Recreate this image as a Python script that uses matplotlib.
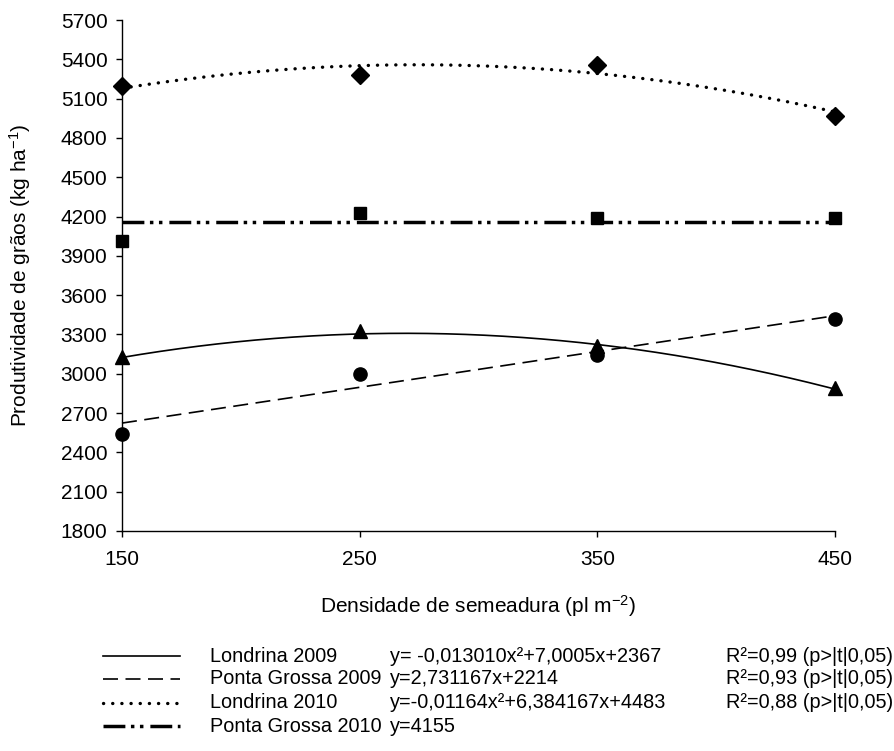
import numpy as np
import matplotlib
matplotlib.use("Agg")
import matplotlib.pyplot as plt
from matplotlib.lines import Line2D

plt.rcParams['font.family'] = ['Liberation Sans', 'DejaVu Sans']
plt.rcParams['mathtext.default'] = 'regular'

# ---- data ----
x_dens = [150, 250, 350, 450]
lon2009 = [3130, 3330, 3215, 2890]
pg2009 = [2540, 3000, 3140, 3415]
lon2010 = [5200, 5280, 5360, 4970]
pg2010 = [4010, 4230, 4190, 4190]

coef_lon2009 = [-0.013010, 7.0005, 2367]
coef_pg2009 = [2.731167, 2214]
coef_lon2010 = [-0.01164, 6.384167, 4483]
coef_pg2010 = [4155]

x_ticks = [150, 250, 350, 450]
y_ticks = list(range(1800, 5701, 300))

legend_names = ["Londrina 2009", "Ponta Grossa 2009", "Londrina 2010", "Ponta Grossa 2010"]
legend_eqs = ["y= -0,013010x\u00b2+7,0005x+2367", "y=2,731167x+2214",
              "y=-0,01164x\u00b2+6,384167x+4483", "y=4155"]
legend_r2 = ["R\u00b2=0,99 (p>|t|0,05)", "R\u00b2=0,93 (p>|t|0,05)", "R\u00b2=0,88 (p>|t|0,05)", ""]

W, H = 895, 751
fig = plt.figure(figsize=(W / 100, H / 100), dpi=100)
ax_l, ax_r, ax_b, ax_t = 122, 835, 531, 20
ax = fig.add_axes([ax_l / W, 1 - ax_b / H, (ax_r - ax_l) / W, (ax_b - ax_t) / H])

xs = np.linspace(150, 450, 300)

styles = [
    dict(color='black', lw=1.2, linestyle='-'),
    dict(color='black', lw=1.2, linestyle=(0, (9, 4.5))),
    dict(color='black', lw=2.4, linestyle=(0, (0.05, 2.7)), dash_capstyle='round'),
    dict(color='black', lw=2.5, linestyle=(0, (6.3, 1.6, 1.0, 1.6, 1.0, 2.0))),
]
coefs = [coef_lon2009, coef_pg2009, coef_lon2010, coef_pg2010]
for c, st in zip(coefs, styles):
    ys = np.polyval(c, xs) * np.ones_like(xs)
    ax.plot(xs, ys, clip_on=False, **st)

mk = dict(color='black', linestyle='none', clip_on=False, zorder=5)
ax.plot(x_dens, lon2009, marker='^', ms=10, **mk)
ax.plot(x_dens, pg2009, marker='o', ms=9.5, **mk)
ax.plot(x_dens, lon2010, marker='D', ms=9, **mk)
ax.plot(x_dens, pg2010, marker='s', ms=8.5, **mk)

ax.set_xlim(150, 450)
ax.set_ylim(1800, 5700)
ax.set_xticks(x_ticks)
ax.set_yticks(y_ticks)
for s in ['top', 'right']:
    ax.spines[s].set_visible(False)
for s in ['left', 'bottom']:
    ax.spines[s].set_linewidth(1.0)
ax.tick_params(axis='both', direction='out', length=4.5, width=1.0, labelsize=15)
ax.tick_params(axis='x', pad=9)
ax.tick_params(axis='y', pad=6)

fig.text(478 / W, 1 - 606 / H, "Densidade de semeadura (pl m$^{-2}$)", ha='center', va='center', fontsize=15)
fig.text(20 / W, 1 - 275 / H, "Produtividade de grãos (kg ha$^{-1}$)", ha='center', va='center',
         rotation=90, fontsize=15)

rows_y = [656, 679, 703, 726]
for yy, st, nm, eq, r2 in zip(rows_y, styles, legend_names, legend_eqs, legend_r2):
    fig.add_artist(Line2D([103 / W, 180 / W], [1 - yy / H, 1 - yy / H], transform=fig.transFigure, **st))
    fig.text(210 / W, 1 - yy / H, nm, ha='left', va='center', fontsize=14.3)
    fig.text(390 / W, 1 - yy / H, eq, ha='left', va='center', fontsize=14.3)
    if r2:
        fig.text(893 / W, 1 - yy / H, r2, ha='right', va='center', fontsize=14.3)

fig.savefig("out.png", dpi=100)
